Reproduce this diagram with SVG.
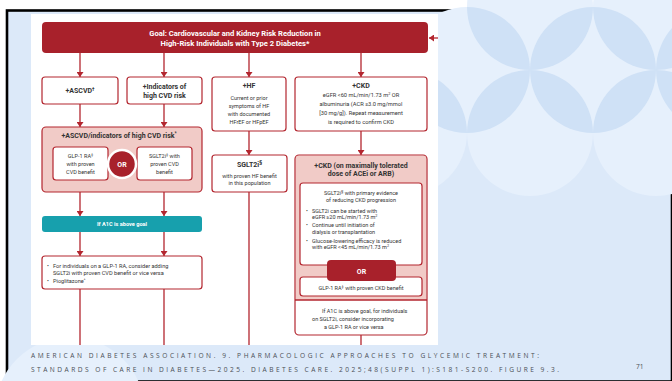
<svg xmlns="http://www.w3.org/2000/svg" width="672" height="381" viewBox="0 0 672 381">
<defs>
<style>
.bx{fill:#ffffff;stroke:#b3262f;stroke-width:1.2}
.pk{fill:#f1cbc7;stroke:#b3262f;stroke-width:1.2}
.ln{stroke:#b3262f;stroke-width:1.3;fill:none}
.t{font-family:Roboto,"Liberation Sans",sans-serif;fill:#333333}
.h{font-family:Roboto,"Liberation Sans",sans-serif;font-weight:bold;fill:#333333;font-size:7px}
.w{font-family:Roboto,"Liberation Sans",sans-serif;font-weight:bold;fill:#ffffff}
.s{font-size:5.5px}
.ft{font-family:"Open Sans","Liberation Sans",sans-serif;font-size:6.6px;fill:#4b4f55}
.cir{fill:#e6f0fc}
.lens{fill:#cfe1f6}
</style>
<marker id="ah" viewBox="0 0 5 7" refX="5" refY="3.5" markerWidth="5" markerHeight="7" markerUnits="userSpaceOnUse" orient="auto"><path d="M0,0 L5,3.5 L0,7 Z" fill="#b3262f"/></marker>
</defs>
<rect x="0" y="0" width="672" height="381" fill="#ffffff"/>
<rect x="7" y="10.5" width="665" height="371" fill="#dce9f9" stroke="#000000" stroke-width="2.6"/>
<g id="pattern">
<circle class="cir" cx="467" cy="70" r="63"/>
<circle class="cir" cx="593" cy="70" r="63"/>
<circle class="cir" cx="530" cy="7" r="63"/>
<circle class="cir" cx="530" cy="133" r="63"/>
<circle class="cir" cx="656" cy="7" r="63"/>
<circle class="cir" cx="656" cy="133" r="63"/>
<circle class="cir" cx="404" cy="133" r="63"/>
<circle class="cir" cx="719" cy="70" r="63"/>
<circle class="cir" cx="70" cy="412" r="75"/>
<path class="lens" d="M467,7 A63,63 0 0,1 530,70 A63,63 0 0,1 467,7 Z"/>
<path class="lens" d="M530,70 A63,63 0 0,1 593,7 A63,63 0 0,1 530,70 Z"/>
<path class="lens" d="M467,133 A63,63 0 0,1 530,70 A63,63 0 0,1 467,133 Z"/>
<path class="lens" d="M530,70 A63,63 0 0,1 593,133 A63,63 0 0,1 530,70 Z"/>
<path class="lens" d="M593,7 A63,63 0 0,1 656,70 A63,63 0 0,1 593,7 Z"/>
<path class="lens" d="M656,70 A63,63 0 0,1 593,133 A63,63 0 0,1 656,70 Z"/>
<path class="lens" d="M656,70 A63,63 0 0,1 719,7 A63,63 0 0,1 656,70 Z"/>
<path class="lens" d="M656,70 A63,63 0 0,1 719,133 A63,63 0 0,1 656,70 Z"/>
<path class="lens" d="M404,70 A63,63 0 0,1 467,133 A63,63 0 0,1 404,70 Z"/>
</g>
<rect x="31" y="14" width="407" height="331" fill="#ffffff"/>

<g id="connectors">
<line class="ln" x1="80" y1="53" x2="80" y2="77" marker-end="url(#ah)"/>
<line class="ln" x1="164" y1="53" x2="164" y2="77" marker-end="url(#ah)"/>
<line class="ln" x1="249" y1="53" x2="249" y2="77" marker-end="url(#ah)"/>
<line class="ln" x1="361" y1="53" x2="361" y2="77" marker-end="url(#ah)"/>
<line class="ln" x1="438" y1="38" x2="429" y2="38" marker-end="url(#ah)"/>
<line class="ln" x1="80" y1="104" x2="80" y2="127" marker-end="url(#ah)"/>
<line class="ln" x1="164" y1="104" x2="164" y2="127" marker-end="url(#ah)"/>
<line class="ln" x1="80" y1="180" x2="80" y2="216" marker-end="url(#ah)"/>
<line class="ln" x1="164" y1="180" x2="164" y2="216" marker-end="url(#ah)"/>
<line class="ln" x1="80" y1="232" x2="80" y2="256" marker-end="url(#ah)"/>
<line class="ln" x1="164" y1="232" x2="164" y2="256" marker-end="url(#ah)"/>
<line class="ln" x1="80" y1="289" x2="80" y2="345"/>
<line class="ln" x1="164" y1="289" x2="164" y2="345"/>
<line class="ln" x1="249" y1="131" x2="249" y2="155" marker-end="url(#ah)"/>
<line class="ln" x1="249" y1="192" x2="249" y2="345"/>
<line class="ln" x1="361" y1="131" x2="361" y2="155" marker-end="url(#ah)"/>
<line class="ln" x1="361" y1="335" x2="361" y2="345"/>
</g>

<g id="goal">
<rect x="42" y="22" width="386" height="31" rx="4" fill="#a8212b"/>
<text class="w" font-size="7.6" text-anchor="middle"><tspan x="235" y="35.5">Goal: Cardiovascular and Kidney Risk Reduction in</tspan><tspan x="235" y="45.5">High-Risk Individuals with Type 2 Diabetes*</tspan></text>
</g>

<g id="ascvd">
<rect class="bx" x="42" y="77" width="76" height="27" rx="3"/>
<text class="h" x="80" y="93" text-anchor="middle">+ASCVD<tspan font-size="4.5" dy="-2.5">†</tspan></text>
</g>

<g id="indicators">
<rect class="bx" x="127" y="77" width="75" height="27" rx="3"/>
<text class="h" text-anchor="middle"><tspan x="164.5" y="88.5">+Indicators of</tspan><tspan x="164.5" y="97.5">high CVD risk</tspan></text>
</g>

<g id="hf">
<rect class="bx" x="212" y="77" width="74" height="54" rx="3"/>
<text class="h" x="249" y="88" text-anchor="middle">+HF</text>
<text class="t s" text-anchor="middle"><tspan x="249" y="100">Current or prior</tspan><tspan x="249" y="108">symptoms of HF</tspan><tspan x="249" y="115.7">with documented</tspan><tspan x="249" y="123.5">HFrEF or HFpEF</tspan></text>
</g>

<g id="ckd">
<rect class="bx" x="295" y="77" width="132" height="54" rx="3"/>
<text class="h" x="361" y="88" text-anchor="middle">+CKD</text>
<text class="t" font-size="5.7" text-anchor="middle"><tspan x="361" y="97">eGFR &lt;60 mL/min/1.73 m<tspan font-size="3.8" dy="-2">2</tspan><tspan dy="2"> OR</tspan></tspan><tspan x="361" y="105.6">albuminuria (ACR ≥3.0 mg/mmol</tspan><tspan x="361" y="114.5">[30 mg/g]). Repeat measurement</tspan><tspan x="361" y="123.5">is required to confirm CKD</tspan></text>
</g>

<g id="ascvd-combined">
<rect class="pk" x="42" y="127" width="160" height="65" rx="4"/>
<text class="h" x="119" y="137.5" text-anchor="middle">+ASCVD/indicators of high CVD risk<tspan font-size="4.5" dy="-2.5">*</tspan></text>
</g>

<g id="glp1-cvd">
<rect class="bx" x="53" y="147" width="55" height="33" rx="3"/>
<text class="t s" text-anchor="middle"><tspan x="80.5" y="158">GLP-1 RA<tspan font-size="3.8" dy="-2">‡</tspan></tspan><tspan x="80.5" y="166">with proven</tspan><tspan x="80.5" y="174">CVD benefit</tspan></text>
</g>

<g id="sglt2-cvd">
<rect class="bx" x="137" y="147" width="55" height="33" rx="3"/>
<text class="t s" text-anchor="middle"><tspan x="164.5" y="158">SGLT2i<tspan font-size="3.8" dy="-2">‡</tspan><tspan dy="2"> with</tspan></tspan><tspan x="164.5" y="166">proven CVD</tspan><tspan x="164.5" y="174">benefit</tspan></text>
</g>

<g id="or-cvd">
<circle cx="122" cy="164" r="14" fill="#a8212b" stroke="#ffffff" stroke-width="2.5"/>
<text class="w" font-size="7" x="122" y="166.5" text-anchor="middle">OR</text>
</g>

<g id="a1c-goal">
<rect x="42" y="216" width="160" height="16" rx="3" fill="#17a0ad"/>
<text class="w" font-size="5.6" x="122" y="226" text-anchor="middle">If A1C is above goal</text>
</g>

<g id="bullets-cvd">
<rect class="bx" x="42" y="256" width="160" height="33" rx="3"/>
<text class="t" font-size="5.6"><tspan x="47" y="267.5">•</tspan><tspan x="53" y="267.5">For individuals on a GLP-1 RA, consider adding</tspan><tspan x="53" y="275">SGLT2i with proven CVD benefit or vice versa</tspan><tspan x="47" y="282.5">•</tspan><tspan x="53" y="282.5">Pioglitazone<tspan font-size="3.8" dy="-2">^</tspan></tspan></text>
</g>

<g id="sglt2-hf">
<rect class="bx" x="212" y="155" width="75" height="37" rx="3"/>
<text class="h" font-size="8.4" x="249.5" y="167" text-anchor="middle">SGLT2i<tspan font-size="4.5" dy="-3">§</tspan></text>
<text class="t s" text-anchor="middle"><tspan x="249.5" y="178">with proven HF benefit</tspan><tspan x="249.5" y="184.7">in this population</tspan></text>
</g>

<g id="ckd-treated">
<rect x="295" y="155" width="132" height="180" rx="4" fill="#ffffff"/>
<path d="M295.6,300 V159 Q295.6,155.6 299,155.6 H423 Q426.4,155.6 426.4,159 V300 Z" fill="#f1cbc7"/>
<line class="ln" x1="295" y1="300" x2="427" y2="300"/>
<rect x="295" y="155" width="132" height="180" rx="4" fill="none" stroke="#b3262f" stroke-width="1.2"/>
<text class="h" text-anchor="middle"><tspan x="361" y="167.5">+CKD (on maximally tolerated</tspan><tspan x="361" y="176">dose of ACEi or ARB)</tspan></text>
</g>

<g id="sglt2-ckd">
<rect class="bx" x="300" y="183" width="122" height="82" rx="3"/>
<text class="t s" text-anchor="middle"><tspan x="361" y="194.5">SGLT2i<tspan font-size="3.8" dy="-2">§</tspan><tspan dy="2"> with primary evidence</tspan></tspan><tspan x="361" y="201.5">of reducing CKD progression</tspan></text>
<text class="t s"><tspan x="306" y="212.5">•</tspan><tspan x="312" y="212.5">SGLT2i can be started with</tspan><tspan x="312" y="219">eGFR ≥20 mL/min/1.73 m<tspan font-size="3.8" dy="-2">2</tspan></tspan><tspan x="306" y="227.3">•</tspan><tspan x="312" y="227.3">Continue until initiation of</tspan><tspan x="312" y="234.2">dialysis or transplantation</tspan><tspan x="306" y="242.6">•</tspan><tspan x="312" y="242.6">Glucose-lowering efficacy is reduced</tspan><tspan x="312" y="249.2">with eGFR &lt;45 mL/min/1.73 m<tspan font-size="3.8" dy="-2">2</tspan></tspan></text>
</g>

<g id="glp1-ckd">
<rect class="bx" x="300" y="277" width="122" height="19" rx="3"/>
<text class="t s" x="361" y="290" text-anchor="middle">GLP-1 RA<tspan font-size="3.8" dy="-2">‡</tspan><tspan dy="2"> with proven CKD benefit</tspan></text>
</g>

<g id="or-ckd">
<rect x="327" y="260" width="69" height="21" rx="4" fill="#a8212b"/>
<text class="w" font-size="7" x="361.5" y="273.5" text-anchor="middle">OR</text>
</g>

<g id="a1c-ckd">
<text class="t s"><tspan x="322" y="313">If A1C is above goal, for individuals</tspan><tspan x="312" y="321.3">on SGLT2i, consider incorporating</tspan><tspan x="324" y="329.3">a GLP-1 RA or vice versa</tspan></text>
</g>

<g id="footer">
<text class="ft" x="31" y="357.5" textLength="508" lengthAdjust="spacing">AMERICAN DIABETES ASSOCIATION. 9. PHARMACOLOGIC APPROACHES TO GLYCEMIC TREATMENT:</text>
<text class="ft" x="31" y="371.5" textLength="528" lengthAdjust="spacing">STANDARDS OF CARE IN DIABETES—2025. DIABETES CARE. 2025;48(SUPPL 1):S181-S200. FIGURE 9.3.</text>
<text class="ft" font-size="5" x="636" y="369">71</text>
</g>
</svg>
